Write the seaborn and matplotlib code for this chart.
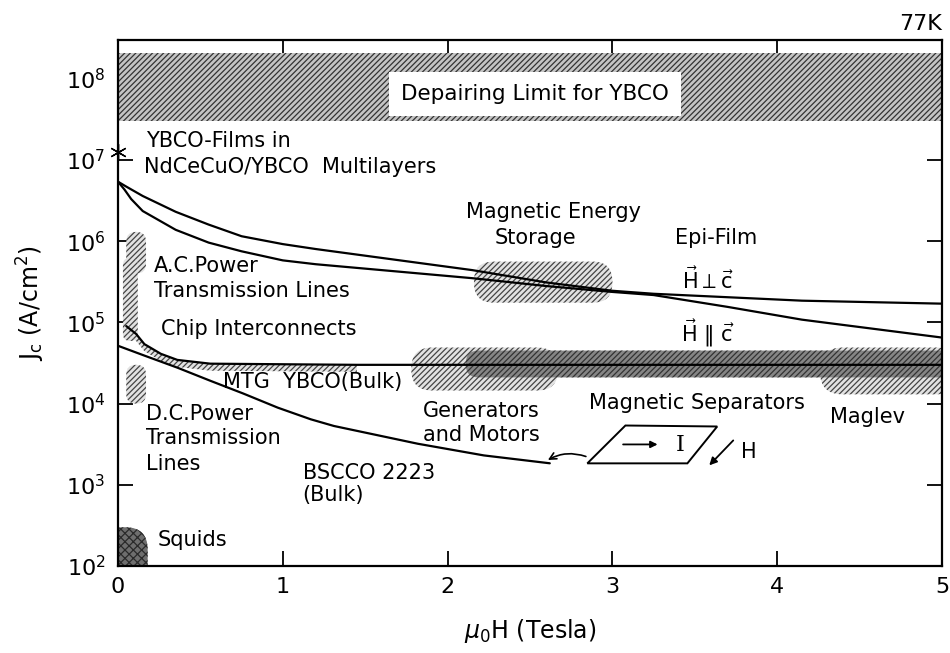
import numpy as np
import pandas as pd
import matplotlib
matplotlib.use("Agg")
import matplotlib.pyplot as plt
import seaborn as sns
from matplotlib.patches import FancyBboxPatch, Polygon
from matplotlib.transforms import Affine2D
from matplotlib.ticker import FixedLocator, NullLocator, FixedFormatter

# ---------------- data ----------------
field_epi_perp = [0, 0.05, 0.15, 0.35, 0.55, 0.75, 1.0, 1.2, 2.15, 2.6, 3.0, 3.25, 4.15, 5.0]
jc_epi_perp = [5.4e6, 4.7e6, 3.6e6, 2.3e6, 1.6e6, 1.15e6, 9.2e5, 8.0e5, 4.4e5, 3.1e5, 2.45e5, 2.25e5, 1.85e5, 1.7e5]
field_epi_par = [0, 0.04, 0.08, 0.15, 0.35, 0.55, 0.75, 1.0, 1.2, 2.15, 2.6, 3.0, 3.25, 3.7, 4.15, 5.0]
jc_epi_par = [5.4e6, 4.3e6, 3.3e6, 2.35e6, 1.38e6, 9.6e5, 7.5e5, 5.8e5, 5.2e5, 3.5e5, 2.8e5, 2.37e5, 2.17e5, 1.55e5, 1.08e5, 6.5e4]
field_mtg = [0.05, 0.11, 0.16, 0.26, 0.36, 0.56, 1.45, 5.0]
jc_mtg = [9.0e4, 7.2e4, 5.4e4, 4.1e4, 3.45e4, 3.1e4, 3.0e4, 3.0e4]
mtg_strip_end = 1.45
field_bscco = [0, 0.16, 0.36, 0.56, 0.76, 0.97, 1.17, 1.31, 1.82, 2.22, 2.62]
jc_bscco = [5.15e4, 3.9e4, 2.77e4, 1.91e4, 1.33e4, 8.9e3, 6.4e3, 5.3e3, 3.2e3, 2.3e3, 1.84e3]

ybco_multilayer_field = [0.0]
ybco_multilayer_jc = [1.26e7]

depairing_low, depairing_high = 3.0e7, 2.1e8

# application regions: x range (T) and Jc range (A/cm^2)
region_names = ["ac_upper", "ac_chip", "dc", "energy_storage", "generators", "maglev", "separators", "squids"]
region_x0 = [0.05, 0.03, 0.05, 2.16, 1.78, 4.26, 2.11, -0.10]
region_x1 = [0.17, 0.12, 0.17, 3.00, 2.67, 5.10, 5.10, 0.18]
region_jlo = [4.0e5, 5.9e4, 1.0e4, 1.75e5, 1.45e4, 1.3e4, 2.1e4, 50]
region_jhi = [1.3e6, 6.2e5, 3.0e4, 5.6e5, 4.9e4, 4.9e4, 4.5e4, 3.0e2]
region_dark = [False, False, False, False, False, False, True, True]

x_ticks = [0, 1, 2, 3, 4, 5]
y_ticks = [1e2, 1e3, 1e4, 1e5, 1e6, 1e7, 1e8]
y_ticklabels = [r"10$^{%d}$" % e for e in range(2, 9)]
y_top = 3.0e8

labels = ["YBCO-Films in", "NdCeCuO/YBCO  Multilayers", "Magnetic Energy", "Storage", "Epi-Film",
          r"$\vec{\mathrm{H}}\perp\vec{\mathrm{c}}$", r"$\vec{\mathrm{H}}\ \Vert\ \vec{\mathrm{c}}$",
          "A.C.Power", "Transmission Lines", "Chip Interconnects", "MTG  YBCO(Bulk)",
          "D.C.Power", "Transmission", "Lines", "Generators", "and Motors", "Magnetic Separators",
          "Maglev", "BSCCO 2223", "(Bulk)", "Squids"]
label_x = [0.17, 0.16, 2.64, 2.53, 3.63, 3.58, 3.58, 0.22, 0.22, 0.26, 0.64, 0.17, 0.17, 0.17,
           1.85, 1.85, 3.51, 4.32, 1.12, 1.12, 0.24]
label_y = [1.7e7, 8.3e6, 2.3e6, 1.1e6, 1.1e6, 3.4e5, 7.4e4, 4.9e5, 2.45e5, 8.3e4, 1.82e4,
           7.5e3, 3.8e3, 1.82e3, 8.1e3, 4.1e3, 1.02e4, 6.8e3, 1.41e3, 7.4e2, 2.1e2]
label_ha = ["left", "left", "center", "center", "center", "center", "center", "left", "left", "left",
            "left", "left", "left", "left", "left", "left", "center", "left", "left", "left", "left"]

# inset schematic (field in T, log10 Jc)
sample_corners = [(3.079, 3.730), (3.636, 3.718), (3.455, 3.264), (2.848, 3.264)]
current_arrow = [(3.048, 3.497), (3.291, 3.497)]
current_label = (3.41, 3.49)
field_arrow = [(3.745, 3.571), (3.576, 3.215)]
field_label = (3.83, 3.40)
link_arrow = [(2.855, 3.337), (2.594, 3.288)]

# ---------------- style ----------------
sns.set_theme(style="ticks")
plt.rcParams["font.family"] = ["DejaVu Sans"]
plt.rcParams["mathtext.fontset"] = "dejavusans"
plt.rcParams["hatch.linewidth"] = 0.9
plt.rcParams["text.color"] = "black"
plt.rcParams["axes.labelcolor"] = "black"

fig = plt.figure(figsize=(9.5, 6.53), dpi=100)
ax = fig.add_axes([118 / 950, 1 - 566 / 653, 824 / 950, 526 / 653])
ax.set_yscale("log")
ax.set_xlim(0, 5)
ax.set_ylim(1e2, y_top)

ltop = np.log10(y_top)
T = Affine2D().translate(0, -2).scale(1 / 5, 1 / (ltop - 2)) + ax.transAxes
px_per_x = 824 / 5
px_per_l = 526 / (ltop - 2)
ma = px_per_x / px_per_l

# depairing band
ax.axhspan(depairing_low, depairing_high, facecolor="#c4c4c4", edgecolor="#333333",
           hatch="//////", lw=0, zorder=1)

# regions
for name, x0, x1, jl, jh, dark in zip(region_names, region_x0, region_x1, region_jlo, region_jhi, region_dark):
    l0, l1 = np.log10(jl), np.log10(jh)
    w, h = x1 - x0, l1 - l0
    r = 0.48 * min(w, h / ma)
    if dark:
        fc, ec, hatch = ("#6e6e6e", "#2a2a2a", "xxxx") if name == "squids" else ("#858585", "#333333", "//////")
    else:
        fc, ec, hatch = ("#e2e2e2", "#444444", "//////")
    p = FancyBboxPatch((x0, l0), w, h, boxstyle=f"round,pad=0,rounding_size={r}",
                       mutation_aspect=ma, transform=T, facecolor=fc, edgecolor=ec,
                       hatch=hatch, lw=0, zorder=2)
    ax.add_patch(p)

# MTG hatched strip
strip_x = [f for f in field_mtg if f <= mtg_strip_end]
strip_y = [j for f, j in zip(field_mtg, jc_mtg) if f <= mtg_strip_end]
ax.fill_between(strip_x, np.array(strip_y) * 0.82, strip_y, facecolor="#e2e2e2",
                edgecolor="#444444", hatch="//////", lw=0, zorder=2)

# curves
for fx, jy in [(field_epi_perp, jc_epi_perp), (field_epi_par, jc_epi_par),
               (field_mtg, jc_mtg), (field_bscco, jc_bscco)]:
    sns.lineplot(x=fx, y=jy, ax=ax, color="black", linewidth=1.6, estimator=None,
                 sort=False, legend=False, zorder=3)

ax.plot(ybco_multilayer_field, ybco_multilayer_jc, marker=(6, 2, 0), ms=12, color="black",
        mew=1.0, ls="none", clip_on=False, zorder=5)

# texts
ax.text(2.53, 10 ** 7.816, "Depairing Limit for YBCO", ha="center", va="center", fontsize=15.5,
        zorder=4, bbox=dict(boxstyle="square,pad=0.55", facecolor="white", edgecolor="none"))
for s, x, y, ha in zip(labels, label_x, label_y, label_ha):
    ax.text(x, y, s, ha=ha, va="center", fontsize=15, zorder=4)

# inset schematic
ax.add_patch(Polygon(sample_corners, closed=True, fill=False, edgecolor="black", lw=1.4,
                     transform=T, zorder=4))
ax.annotate("", xy=current_arrow[1], xytext=current_arrow[0], xycoords=T, textcoords=T,
            arrowprops=dict(arrowstyle="-|>", color="black", lw=1.3, mutation_scale=10))
ax.text(*current_label, "I", transform=T, ha="center", va="center", fontsize=16, family="serif")
ax.annotate("", xy=field_arrow[1], xytext=field_arrow[0], xycoords=T, textcoords=T,
            arrowprops=dict(arrowstyle="-|>", color="black", lw=1.3, mutation_scale=11))
ax.text(*field_label, "H", transform=T, ha="center", va="center", fontsize=15)
ax.annotate("", xy=link_arrow[1], xytext=link_arrow[0], xycoords=T, textcoords=T,
            arrowprops=dict(arrowstyle="->", color="black", lw=1.2,
                            connectionstyle="arc3,rad=0.25"))

ax.text(1.0, 1.012, "77K", transform=ax.transAxes, ha="right", va="bottom", fontsize=16)

# axes
ax.xaxis.set_major_locator(FixedLocator(x_ticks))
ax.yaxis.set_major_locator(FixedLocator(y_ticks))
ax.yaxis.set_major_formatter(FixedFormatter(y_ticklabels))
ax.yaxis.set_minor_locator(NullLocator())
ax.tick_params(axis="both", which="major", direction="in", length=11, width=1.3,
               top=True, right=True, labelsize=16, colors="black")
ax.tick_params(axis="x", pad=8)
ax.tick_params(axis="y", pad=9)
for sp in ax.spines.values():
    sp.set_visible(True)
    sp.set_linewidth(1.6)
    sp.set_color("black")
ax.set_xlabel(r"$\mu_0$H (Tesla)", fontsize=17, labelpad=14)
ax.set_ylabel(r"J$_\mathrm{c}$ (A/cm$^2$)", fontsize=17, labelpad=14)

fig.savefig("out.png", dpi=100)
